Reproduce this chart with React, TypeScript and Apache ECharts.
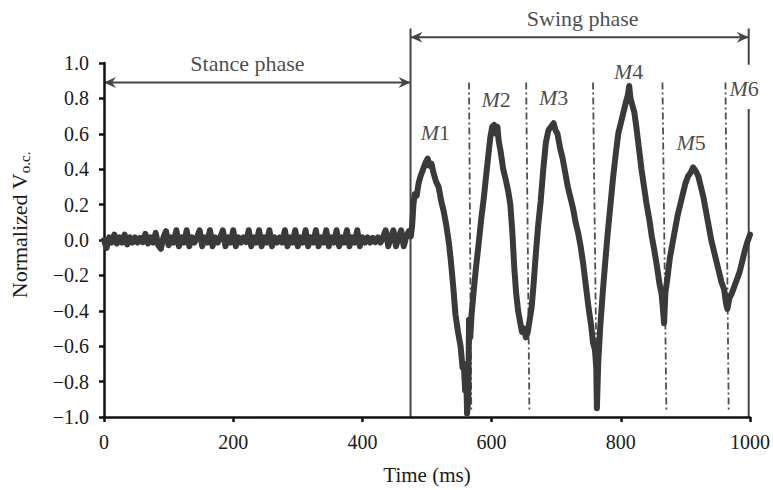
import React, { useEffect, useRef } from "react";
import * as echarts from "echarts";

// ---- data ----
const stanceStep = 4; // ms between stance samples (t = 0, 4, 8, ...)
const stanceValues = [
  0.0, -0.045, 0.015, -0.015, 0.03, -0.02, 0.015, -0.015,
  0.03, -0.025, 0.015, -0.015, 0.015, -0.015, 0.012, -0.012,
  0.035, -0.02, 0.015, -0.015, 0.04, -0.03, -0.05, 0.015,
  0.05, -0.03, 0.015, -0.015, 0.055, -0.035, 0.015, -0.015,
  0.055, -0.035, 0.015, -0.015, 0.015, 0.055, -0.035, 0.015,
  -0.015, 0.055, -0.035, 0.015, -0.015, 0.015, 0.055, -0.035,
  0.015, -0.015, 0.055, -0.035, 0.015, -0.015, 0.015, -0.012,
  0.055, -0.035, 0.015, -0.015, 0.055, -0.035, 0.015, -0.015,
  0.055, -0.035, 0.015, -0.015, 0.015, -0.015, 0.055, -0.035,
  0.015, -0.015, 0.055, -0.035, 0.015, -0.015, 0.055, -0.035,
  0.015, -0.015, 0.055, -0.035, 0.015, -0.015, 0.055, -0.035,
  0.015, -0.015, 0.055, -0.035, 0.015, -0.015, 0.055, -0.035,
  0.015, -0.015, 0.055, -0.035, 0.015, -0.015, 0.015, -0.015,
  0.012, -0.012, 0.015, -0.015, 0.015, 0.055, -0.035, 0.015,
  0.055, -0.035, 0.015, 0.055, -0.035, 0.02, 0.05,
];
const swingTimes = [
  475, 477, 479, 481, 484, 487, 490, 494, 498, 501, 504, 507, 510, 514, 518, 522, 526, 530, 534, 537,
  541, 544, 548, 552, 555, 557, 559, 561, 562, 564, 565, 567, 569, 572, 576, 580, 584, 588, 592, 595,
  598, 601, 604, 607, 609, 611, 614, 618, 622, 626, 629, 632, 635, 638, 641, 644, 647, 650, 653, 656,
  659, 662, 665, 668, 672, 676, 680, 684, 688, 692, 696, 699, 702, 706, 710, 714, 718, 722, 726, 730,
  734, 738, 742, 746, 750, 754, 757, 760, 762, 763, 765, 768, 772, 776, 780, 784, 788, 792, 796, 800,
  804, 808, 811, 813, 815, 818, 821, 824, 828, 832, 836, 840, 844, 848, 852, 856, 860, 863, 865, 867,
  869, 872, 876, 880, 884, 888, 892, 896, 900, 904, 908, 912, 916, 920, 924, 928, 932, 936, 940, 944,
  948, 952, 956, 960, 963, 965, 968, 972, 976, 980, 984, 988, 992, 996, 1000,
];
const swingValues = [
  0.02, 0.08, 0.2, 0.26, 0.25, 0.32, 0.36, 0.4, 0.44, 0.46, 0.42, 0.43, 0.38, 0.33, 0.3, 0.22, 0.16, 0.08, -0.02, -0.12,
  -0.28, -0.42, -0.52, -0.6, -0.72, -0.7, -0.85, -0.8, -0.98, -0.9, -0.45, -0.55, -0.42, -0.3, -0.15, -0.02, 0.12, 0.24, 0.38, 0.48,
  0.58, 0.64, 0.65, 0.6, 0.64, 0.56, 0.5, 0.4, 0.34, 0.27, 0.2, 0.05, -0.15, -0.3, -0.4, -0.46, -0.52, -0.5, -0.55, -0.52,
  -0.45, -0.38, -0.25, -0.1, 0.08, 0.22, 0.4, 0.55, 0.62, 0.64, 0.66, 0.62, 0.6, 0.52, 0.46, 0.38, 0.3, 0.24, 0.18, 0.1,
  0.04, -0.04, -0.14, -0.26, -0.38, -0.48, -0.58, -0.62, -0.72, -0.95, -0.7, -0.5, -0.3, -0.12, 0.05, 0.2, 0.35, 0.48, 0.6, 0.66,
  0.72, 0.78, 0.82, 0.87, 0.8, 0.76, 0.72, 0.64, 0.52, 0.4, 0.3, 0.2, 0.12, 0.02, -0.06, -0.15, -0.25, -0.3, -0.38, -0.47,
  -0.3, -0.22, -0.1, -0.02, 0.06, 0.14, 0.2, 0.26, 0.32, 0.36, 0.38, 0.41, 0.39, 0.36, 0.3, 0.24, 0.16, 0.08, 0.0, -0.06,
  -0.12, -0.18, -0.24, -0.28, -0.36, -0.39, -0.33, -0.3, -0.26, -0.22, -0.18, -0.12, -0.06, -0.01, 0.03,
];

const swingStart = 474.5; // ms
const swingEnd = 998; // ms
const stanceArrowY = 0.89;
const swingArrowY = 1.145;
const phaseLineTop = 1.195;
const endLineBreakTop = 0.99;
const endLineBreakBottom = 0.74;
// dash-dot muscle dividers: [topTime, bottomTime]
const dividerTimes = [
  [565, 568.5],
  [653.5, 658.5],
  [757, 763],
  [864.5, 870.5],
  [962, 967],
];
const dividerTop = 0.89;
const dividerBottom = -0.96;

const muscleNames = ["1", "2", "3", "4", "5", "6"];
const muscleLabelTimes = [513, 607, 696, 812, 909, 991];
const muscleLabelValues = [0.61, 0.794, 0.805, 0.95, 0.549, 0.855];

const phaseLabels = ["Stance phase", "Swing phase"];
const phaseLabelTimes = [222, 741];
const phaseLabelValues = [1.0, 1.25];

const xTicks = { min: 0, max: 1000, interval: 200 };
const yTicks = { min: -1, max: 1, interval: 0.2 };

const FONT = "Liberation Serif";
const TRACE = "#3a3a3a";
const ANNOT = "#454545";
const TEXT = "#1a1a1a";

export default function App() {
  const ref = useRef<HTMLDivElement>(null);

  useEffect(() => {
    document.body.style.margin = "0";
    if (!ref.current) return;
    const chart = echarts.init(ref.current, undefined, { renderer: "svg" });

    const signal: [number, number][] = [];
    stanceValues.forEach((v, i) => signal.push([i * stanceStep, v]));
    swingTimes.forEach((t, i) => signal.push([t, swingValues[i]]));

    const labelData: any[] = [
      ...muscleNames.map((n, i) => ({
        value: [muscleLabelTimes[i], muscleLabelValues[i]],
        label: { formatter: `{i|M}{n|${n}}` },
      })),
      ...phaseLabels.map((p, i) => ({
        value: [phaseLabelTimes[i], phaseLabelValues[i]],
        label: { formatter: `{p|${p}}` },
      })),
    ];

    const fmtY = (v: number) => {
      if (Math.abs(v) < 1e-9) return "0.0";
      return (v < 0 ? "\u2212" : "") + Math.abs(v).toFixed(1);
    };

    chart.setOption({
      animation: false,
      grid: { left: 101, right: 21.5, top: 63, bottom: 68, containLabel: false },
      xAxis: {
        type: "value",
        min: xTicks.min,
        max: xTicks.max,
        interval: xTicks.interval,
        name: "Time (ms)",
        nameLocation: "middle",
        nameGap: 47,
        nameTextStyle: { fontFamily: FONT, fontSize: 21, color: TEXT },
        axisLine: { show: true, onZero: false, lineStyle: { color: "#111", width: 2.5 } },
        axisTick: { show: true, length: 5, lineStyle: { color: "#111", width: 2.5 } },
        axisLabel: { fontFamily: FONT, fontSize: 20, color: TEXT, margin: 15, formatter: (v: number) => String(v) },
        splitLine: { show: false },
      },
      yAxis: {
        type: "value",
        min: yTicks.min,
        max: yTicks.max,
        interval: yTicks.interval,
        name: "{a|Normalized V}{s|o.c.}",
        nameLocation: "middle",
        nameGap: 72,
        nameRotate: 90,
        nameTextStyle: {
          fontFamily: FONT,
          color: TEXT,
          padding: [0, 0, 0, 30],
          rich: {
            a: { fontFamily: FONT, fontSize: 22, lineHeight: 26, color: TEXT },
            s: { fontFamily: FONT, fontSize: 15, lineHeight: 15, verticalAlign: "bottom", color: TEXT },
          },
        },
        axisLine: { show: true, onZero: false, lineStyle: { color: "#111", width: 2.5 } },
        axisTick: { show: true, length: 5, lineStyle: { color: "#111", width: 2.5 } },
        axisLabel: { fontFamily: FONT, fontSize: 20, color: TEXT, margin: 15, formatter: fmtY },
        splitLine: { show: false },
      },
      series: [
        {
          type: "line",
          data: signal,
          showSymbol: false,
          symbol: "none",
          clip: false,
          silent: true,
          lineStyle: { color: TRACE, width: 6, join: "round", cap: "round" },
        },
        {
          type: "scatter",
          data: labelData,
          symbolSize: 0,
          clip: false,
          silent: true,
          label: {
            show: true,
            position: "inside",
            color: TEXT,
            rich: {
              i: { fontFamily: FONT, fontSize: 22, fontStyle: "italic", color: TEXT },
              n: { fontFamily: FONT, fontSize: 22, color: TEXT },
              p: { fontFamily: FONT, fontSize: 22, color: TEXT },
            },
          },
        },
      ],
    });

    // annotation lines, positioned through the chart's own scales
    const px = (t: number, v: number) => chart.convertToPixel({ gridIndex: 0 }, [t, v]) as number[];
    const solidStyle = { stroke: ANNOT, lineWidth: 2 };
    const dashStyle = { stroke: "#505050", lineWidth: 1.8, lineDash: [7, 3, 2, 3] };
    const seg = (a: number[], b: number[], style: any) => ({
      type: "line",
      silent: true,
      shape: { x1: a[0], y1: a[1], x2: b[0], y2: b[1] },
      style,
    });
    const head = (tip: number[], dir: number) => ({
      type: "polygon",
      silent: true,
      shape: {
        points: [
          [tip[0], tip[1]],
          [tip[0] - dir * 12, tip[1] - 5.5],
          [tip[0] - dir * 8, tip[1]],
          [tip[0] - dir * 12, tip[1] + 5.5],
        ],
      },
      style: { fill: ANNOT },
    });

    const sA = px(0, stanceArrowY);
    const sB = px(swingStart, stanceArrowY);
    const wA = px(swingStart, swingArrowY);
    const wB = px(swingEnd, swingArrowY);
    const elements: any[] = [
      seg(sA, sB, solidStyle),
      head(sA, -1),
      head(sB, 1),
      seg(wA, wB, solidStyle),
      head(wA, -1),
      head(wB, 1),
      seg(px(swingStart, phaseLineTop), px(swingStart, -1), solidStyle),
      seg(px(swingEnd, phaseLineTop), px(swingEnd, endLineBreakTop), solidStyle),
      seg(px(swingEnd, endLineBreakBottom), px(swingEnd, -1), solidStyle),
      ...dividerTimes.map(([a, b]) => seg(px(a, dividerTop), px(b, dividerBottom), dashStyle)),
    ];
    chart.setOption({ graphic: { elements } });

    return () => chart.dispose();
  }, []);

  return <div ref={ref} style={{ width: 773, height: 490 }} />;
}
